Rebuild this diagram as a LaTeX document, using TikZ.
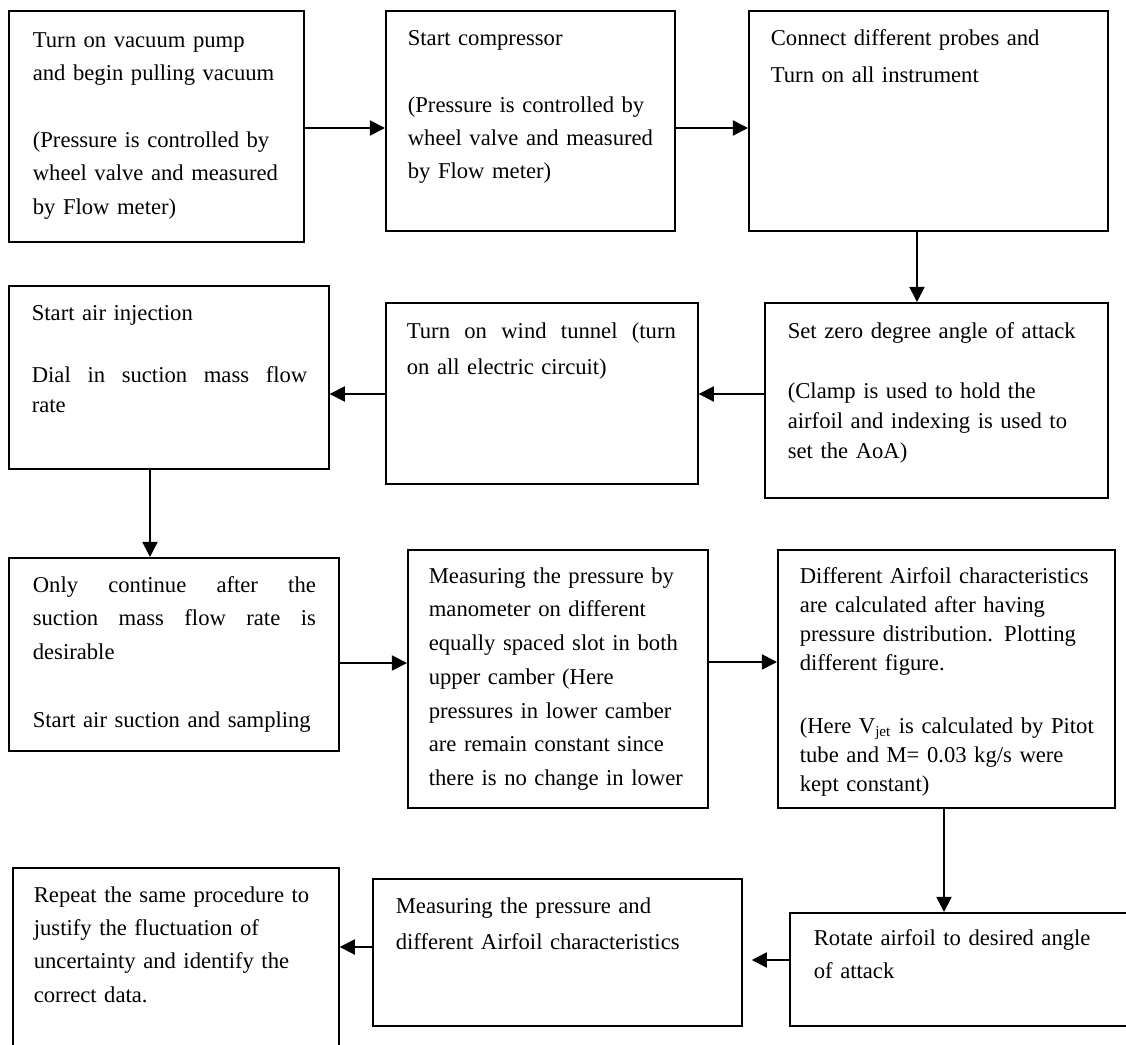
\documentclass[tikz,border=0pt]{standalone}
\usepackage{fontspec}
\setmainfont{Liberation Serif}
\usetikzlibrary{arrows.meta}
\tikzset{
  stepbox/.style={draw,rectangle,anchor=north west,inner sep=0pt},
  steptext/.style={anchor=base west,inner sep=0pt,align=left,text width=175pt,
    font=\fontsize{12pt}{17.7pt}\selectfont},
}
\begin{document}
\begin{tikzpicture}[x=0.53pt,y=-0.53pt,>={Triangle[length=8pt,width=8pt]},line width=0.9pt]
\useasboundingbox (0,0) rectangle (1126,1045);
\coordinate (P1) at (8,10);
\coordinate (P2) at (385,10);
\coordinate (P3) at (748,10);
\coordinate (P4) at (764,302);
\coordinate (P5) at (385,302);
\coordinate (P6) at (8,285);
\coordinate (P7) at (8,557);
\coordinate (P8) at (407,549);
\coordinate (P9) at (777,549);
\coordinate (P10) at (789,912);
\coordinate (P11) at (372,878);
\coordinate (P12) at (12,867);
% first row
\node[stepbox,minimum width=295*0.53pt,minimum height=231*0.53pt] (vac) at (P1) {};
\node[steptext,font=\fontsize{12pt}{17.8pt}\selectfont] (vac-t) at (32,47)
  {Turn on vacuum pump\\and begin pulling vacuum\\[17.5pt](Pressure is controlled by\\wheel valve and measured\\by Flow meter)};
\node[stepbox,minimum width=289*0.53pt,minimum height=220*0.53pt] (comp) at (P2) {};
\node[steptext,font=\fontsize{12pt}{17.5pt}\selectfont] (comp-t) at (407,45)
  {Start compressor\\[18.5pt](Pressure is controlled by\\wheel valve and measured\\by Flow meter)};
\node[stepbox,minimum width=359*0.53pt,minimum height=220*0.53pt] (probes) at (P3) {};
\node[steptext,font=\fontsize{12pt}{20pt}\selectfont] (probes-t) at (770,45)
  {Connect different probes and\\Turn on all instrument};
\draw[->] (vac.east |- 0,128) -- (comp.west |- 0,128);
\draw[->] (comp.east |- 0,128) -- (probes.west |- 0,128);
% second row
\node[stepbox,minimum width=343*0.53pt,minimum height=195*0.53pt] (zero) at (P4) {};
\node[steptext,font=\fontsize{12pt}{16pt}\selectfont] (zero-t) at (787,338)
  {Set zero degree angle of attack\\[16pt](Clamp is used to hold the\\airfoil and indexing is used to\\set the AoA)};
\node[stepbox,minimum width=312*0.53pt,minimum height=181*0.53pt] (tunnel) at (P5) {};
\node[steptext,font=\fontsize{12pt}{19.6pt}\selectfont] (tunnel-t) at (406,338)
  {\makebox[142.6pt]{Turn\hfill on\hfill wind\hfill tunnel\hfill (turn}\\on all electric circuit)};
\node[stepbox,minimum width=320*0.53pt,minimum height=183*0.53pt] (inject) at (P6) {};
\node[steptext,font=\fontsize{12pt}{16pt}\selectfont] (inject-t) at (31,320)
  {Start air injection\\[17pt]\makebox[146pt]{Dial\hfill in\hfill suction\hfill mass\hfill flow}\\rate};
\draw[->] (probes.south -| 917,0) -- (zero.north -| 917,0);
\draw[->] (zero.west |- 0,394) -- (tunnel.east |- 0,394);
\draw[->] (tunnel.west |- 0,394) -- (inject.east |- 0,394);
% third row
\node[stepbox,minimum width=330*0.53pt,minimum height=193*0.53pt] (cont) at (P7) {};
\node[steptext,font=\fontsize{12pt}{18pt}\selectfont] (cont-t) at (32,592)
  {\makebox[150pt]{Only\hfill continue\hfill after\hfill the}\\\makebox[150pt]{suction\hfill mass\hfill flow\hfill rate\hfill is}\\desirable\\[18pt]Start air suction and sampling};
\node[stepbox,minimum width=300*0.53pt,minimum height=258*0.53pt] (meas) at (P8) {};
\node[steptext,font=\fontsize{12pt}{17.9pt}\selectfont] (meas-t) at (428,583)
  {Measuring the pressure by\\manometer on different\\equally spaced slot in both\\upper camber (Here\\pressures in lower camber\\are remain constant since\\there is no change in lower};
\node[stepbox,minimum width=337*0.53pt,minimum height=258*0.53pt] (calc) at (P9) {};
\node[steptext,font=\fontsize{12pt}{15.4pt}\selectfont] (calc-t) at (799,583)
  {Different Airfoil characteristics\\are calculated after having\\pressure distribution. Plotting\\different figure.\\[18pt](Here V\textsubscript{jet} is calculated by Pitot\\tube and M= 0.03 kg/s were\\kept constant)};
\draw[->] (inject.south -| 150,0) -- (cont.north -| 150,0);
\draw[->] (cont.east |- 0,663) -- (meas.west |- 0,663);
\draw[->] (meas.east |- 0,662) -- (calc.west |- 0,662);
% last row
\node[stepbox,minimum width=350*0.53pt,minimum height=113*0.53pt] (rot) at (P10) {};
\node[steptext,font=\fontsize{12pt}{17.5pt}\selectfont] (rot-t) at (813,945)
  {Rotate airfoil to desired angle\\of attack};
\node[stepbox,minimum width=369*0.53pt,minimum height=147*0.53pt] (again) at (P11) {};
\node[steptext,font=\fontsize{12pt}{19.6pt}\selectfont] (again-t) at (395,913)
  {Measuring the pressure and\\different Airfoil characteristics};
\node[stepbox,minimum width=326*0.53pt,minimum height=193*0.53pt] (repeat) at (P12) {};
\node[steptext,font=\fontsize{12pt}{17.7pt}\selectfont] (repeat-t) at (33,902)
  {Repeat the same procedure to\\justify the fluctuation of\\uncertainty and identify the\\correct data.};
\draw[->] (calc.south -| 944,0) -- (rot.north -| 944,0);
\draw[->,shorten >=4.8pt] (rot.west |- 0,960) -- (again.east |- 0,960);
\draw[->] (again.west |- 0,947) -- (repeat.east |- 0,947);
\end{tikzpicture}
\end{document}
